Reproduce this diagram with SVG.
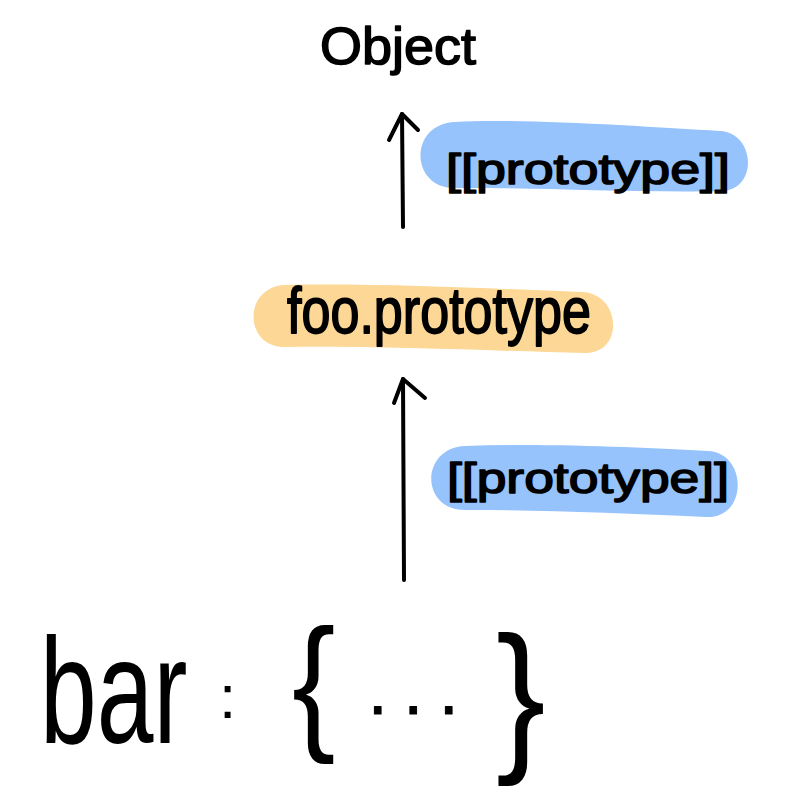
<svg xmlns="http://www.w3.org/2000/svg" width="802" height="808" viewBox="0 0 802 808">
  <style>
    .ink { font-family: "Liberation Sans", "DejaVu Sans", sans-serif; fill: #000; stroke: #000; stroke-linejoin: round; }
    .edge { fill: none; stroke: #000; stroke-width: 4; stroke-linecap: round; stroke-linejoin: round; }
    .blue { fill: #96c3fb; }
    .orange { fill: #fdd795; }
  </style>
  <rect width="802" height="808" fill="#fff"/>

  <!-- top object -->
  <g id="object">
    <text class="ink" x="320" y="64" font-size="52" stroke-width="1.5" textLength="156" lengthAdjust="spacingAndGlyphs">Object</text>
  </g>

  <!-- label on the upper link -->
  <g id="proto-label-upper">
    <path class="blue" d="M 455 122 C 520 118, 650 127, 720 131 C 756 133, 758 190, 722 191 C 640 193, 520 187, 455 188 C 410 189, 408 124, 455 122 Z"/>
    <text class="ink" x="446" y="184" font-size="42" stroke-width="1.5" textLength="284" lengthAdjust="spacingAndGlyphs">[[prototype]]</text>
  </g>

  <!-- foo.prototype -->
  <g id="foo-prototype">
    <path class="orange" d="M 285 285 C 380 283, 500 289, 582 292 C 622 294, 624 354, 585 353 C 500 351, 380 346, 285 347 C 243 347, 243 287, 285 285 Z"/>
    <text class="ink" x="287" y="333" font-size="64" stroke-width="1.8" textLength="304" lengthAdjust="spacingAndGlyphs">foo.prototype</text>
  </g>

  <!-- label on the lower link -->
  <g id="proto-label-lower">
    <path class="blue" d="M 465 446 C 550 443, 650 448, 708 451 C 748 453, 748 519, 706 517 C 620 513, 540 510, 465 510 C 420 510, 420 448, 465 446 Z"/>
    <text class="ink" x="447" y="493" font-size="42" stroke-width="1.5" textLength="282" lengthAdjust="spacingAndGlyphs">[[prototype]]</text>
  </g>

  <!-- bar object literal, narrow glyphs via horizontal scale -->
  <g id="bar">
    <text class="ink" transform="translate(40 743) scale(0.68 1)" x="0" y="0" font-size="150" stroke-width="0">bar</text>
    <text class="ink" x="219" y="718" font-size="62" stroke-width="0">:</text>
    <text class="ink" transform="translate(292 733) scale(0.88 1)" x="0" y="0" font-size="148" stroke-width="0">{</text>
    <text class="ink" x="368" y="714" font-size="70" stroke-width="1" letter-spacing="16">...</text>
    <text class="ink" transform="translate(496 752) scale(0.9 1)" x="0" y="0" font-size="165" stroke-width="0">}</text>
  </g>

  <!-- connectors -->
  <g id="connectors">
    <path class="edge" d="M 403 227 L 402 114"/>
    <path class="edge" d="M 389 140 L 402 114 L 418 130"/>
    <path class="edge" d="M 404 580 L 403 379"/>
    <path class="edge" d="M 394 403 L 403 379 L 425 398"/>
  </g>
</svg>
